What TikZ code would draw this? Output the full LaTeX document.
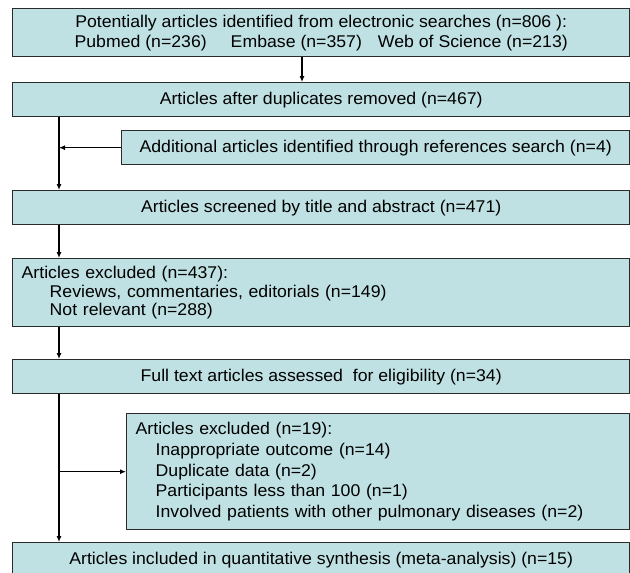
\documentclass[tikz,border=0pt]{standalone}
\usepackage{fontspec}
\setmainfont{Liberation Sans}[FakeStretch=1.04]
\usetikzlibrary{arrows.meta,positioning}
\definecolor{boxfill}{HTML}{BFE1E3}
\definecolor{boxline}{HTML}{2B2B2B}

\begin{document}
\begin{tikzpicture}[x=1pt, y=-1pt,
  box/.style={draw=boxline, line width=1.4pt, fill=boxfill, anchor=north west, inner xsep=9pt, inner ysep=0pt, align=center, font=\fontsize{17}{20}\selectfont},
  listbox/.style={box, align=left},
  arr/.style={-{Latex[length=6pt,width=5pt]}, line width=1.1pt}]
\useasboundingbox (0,0) rectangle (630,573);
\coordinate (trunk) at (59,0);
\coordinate (split) at (302,0);
% flow boxes
\node[box, minimum width=617pt, minimum height=48pt] (search) at (12,8) {Potentially articles identified from electronic searches (n=806 ):\\Pubmed (n=236)\hspace{24pt}Embase (n=357)\hspace{16pt}Web of Science (n=213)};
\node[box, minimum width=617pt, minimum height=34pt] (dedup) at (12,82) {Articles after duplicates removed (n=467)};
\node[box, minimum width=508pt, minimum height=34pt] (extra) at (121,130) {Additional articles identified through references search (n=4)};
\node[box, minimum width=617pt, minimum height=34pt] (screen) at (12,190) {Articles screened by title and abstract (n=471)};
\node[listbox, text width=599pt, minimum height=68pt, font=\fontsize{17}{18.5}\selectfont] (excl1) at (12,258) {Articles excluded (n=437):\\
  \hspace*{28pt}Reviews, commentaries, editorials (n=149)\\
  \hspace*{28pt}Not relevant (n=288)};
\node[box, minimum width=617pt, minimum height=34pt] (full) at (12,359) {Full text articles assessed\ \ for eligibility (n=34)};
\node[listbox, text width=485pt, minimum height=116pt, font=\fontsize{17}{20.6}\selectfont] (excl2) at (126,413) {Articles excluded (n=19):\\
  \hspace*{20pt}Inappropriate outcome (n=14)\\
  \hspace*{20pt}Duplicate data (n=2)\\
  \hspace*{20pt}Participants less than 100 (n=1)\\
  \hspace*{20pt}Involved patients with other pulmonary diseases (n=2)};
\node[box, minimum width=617pt, minimum height=34pt] (incl) at (12,542) {Articles included in quantitative synthesis (meta-analysis) (n=15)};
% connectors
\draw[arr] (search.south -| split) -- (dedup.north -| split);
\draw[arr] (dedup.south -| trunk) -- (screen.north -| trunk);
\draw[arr] (extra.west) -- (extra.west -| trunk);
\draw[arr] (screen.south -| trunk) -- (excl1.north -| trunk);
\draw[arr] (excl1.south -| trunk) -- (full.north -| trunk);
\draw[arr] (full.south -| trunk) -- (incl.north -| trunk);
\draw[arr] (excl2.west -| trunk) -- (excl2.west);
\end{tikzpicture}
\end{document}
